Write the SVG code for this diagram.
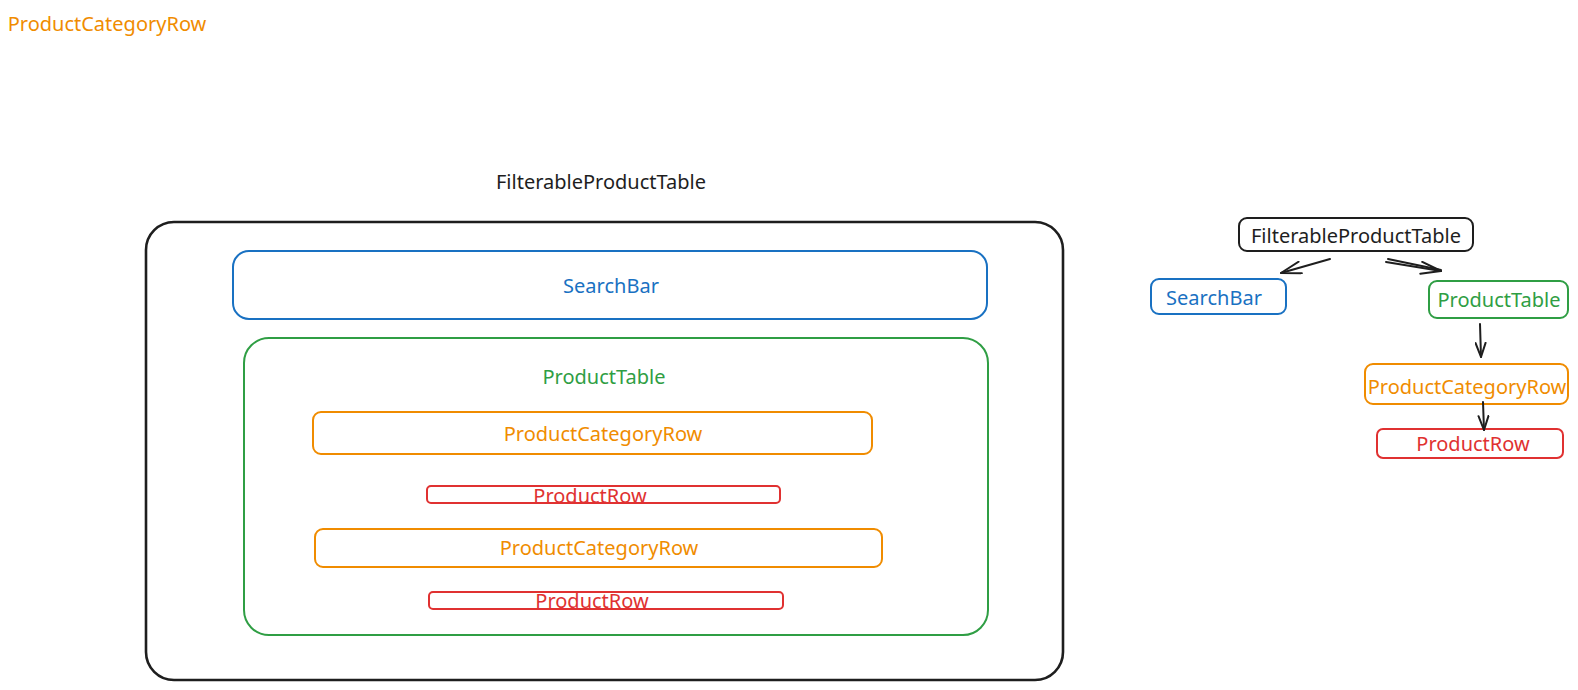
<svg xmlns="http://www.w3.org/2000/svg" width="1578" height="690" viewBox="0 0 1578 690">
<style>
text{font-family:"Noto Sans","Open Sans","Liberation Sans",sans-serif;font-size:20px;text-anchor:middle;dominant-baseline:central}
rect{fill:none;stroke-width:2}
.k{stroke:#1e1e1e}.kt{fill:#1e1e1e}
.b{stroke:#1971c2}.bt{fill:#1971c2}
.g{stroke:#2f9e44}.gt{fill:#2f9e44}
.o{stroke:#f08c00}.ot{fill:#f08c00}
.r{stroke:#e03131}.rt{fill:#e03131}
.c{fill:none;stroke:#1e1e1e;stroke-width:2;stroke-linecap:round;stroke-linejoin:round}
</style>
<defs>
<marker id="ah" viewBox="0 0 22 14" refX="21" refY="7" markerWidth="22" markerHeight="14" markerUnits="userSpaceOnUse" orient="auto">
<path d="M1,1 L21,7 L1,13" fill="none" stroke="#1e1e1e" stroke-width="2" stroke-linecap="round" stroke-linejoin="round"/>
</marker>
<marker id="ahs" viewBox="0 0 16 12" refX="15" refY="6" markerWidth="16" markerHeight="12" markerUnits="userSpaceOnUse" orient="auto">
<path d="M1,1 L15,6 L1,11" fill="none" stroke="#1e1e1e" stroke-width="2" stroke-linecap="round" stroke-linejoin="round"/>
</marker>
</defs>
<text id="stray-label" class="ot" x="107" y="23">ProductCategoryRow</text>
<g id="left-filterable">
<text class="kt" x="601" y="181">FilterableProductTable</text>
<rect class="k" x="146" y="222" width="917" height="458" rx="28" style="stroke-width:2.6"/>
</g>
<g id="left-searchbar">
<rect class="b" x="233" y="251" width="754" height="68" rx="16"/>
<text class="bt" x="611" y="285">SearchBar</text>
</g>
<g id="left-producttable">
<rect class="g" x="244" y="338" width="744" height="297" rx="25"/>
<text class="gt" x="604" y="376">ProductTable</text>
</g>
<g id="left-pcr1">
<rect class="o" x="313" y="412" width="559" height="42" rx="8"/>
<text class="ot" x="603" y="433">ProductCategoryRow</text>
</g>
<g id="left-pr1">
<rect class="r" x="427" y="486" width="353" height="17" rx="4"/>
<text class="rt" x="590" y="495">ProductRow</text>
</g>
<g id="left-pcr2">
<rect class="o" x="315" y="529" width="567" height="38" rx="8"/>
<text class="ot" x="599" y="547">ProductCategoryRow</text>
</g>
<g id="left-pr2">
<rect class="r" x="429" y="592" width="354" height="17" rx="4"/>
<text class="rt" x="592" y="600">ProductRow</text>
</g>
<g id="tree-filterable">
<rect class="k" x="1239" y="218" width="234" height="33" rx="8"/>
<text class="kt" x="1356" y="235">FilterableProductTable</text>
</g>
<g id="tree-searchbar">
<rect class="b" x="1151" y="279" width="135" height="35" rx="8"/>
<text class="bt" x="1214" y="297">SearchBar</text>
</g>
<g id="tree-producttable">
<rect class="g" x="1429" y="281" width="139" height="37" rx="8"/>
<text class="gt" x="1499" y="299">ProductTable</text>
</g>
<g id="tree-pcr">
<rect class="o" x="1365" y="364" width="203" height="40" rx="8"/>
<text class="ot" x="1467" y="386">ProductCategoryRow</text>
</g>
<g id="tree-productrow">
<rect class="r" x="1377" y="429" width="186" height="29" rx="6"/>
<text class="rt" x="1473" y="443">ProductRow</text>
</g>
<g id="connectors">
<path class="c" d="M1330,259 L1281,273" marker-end="url(#ah)"/>
<path class="c" d="M1386,262 L1441,271" marker-end="url(#ah)"/>
<path class="c" d="M1388,259 L1441,270" />
<path class="c" d="M1480,324 L1481,357" marker-end="url(#ahs)"/>
<path class="c" d="M1483,402 L1484,430" marker-end="url(#ahs)"/>
</g>
</svg>
